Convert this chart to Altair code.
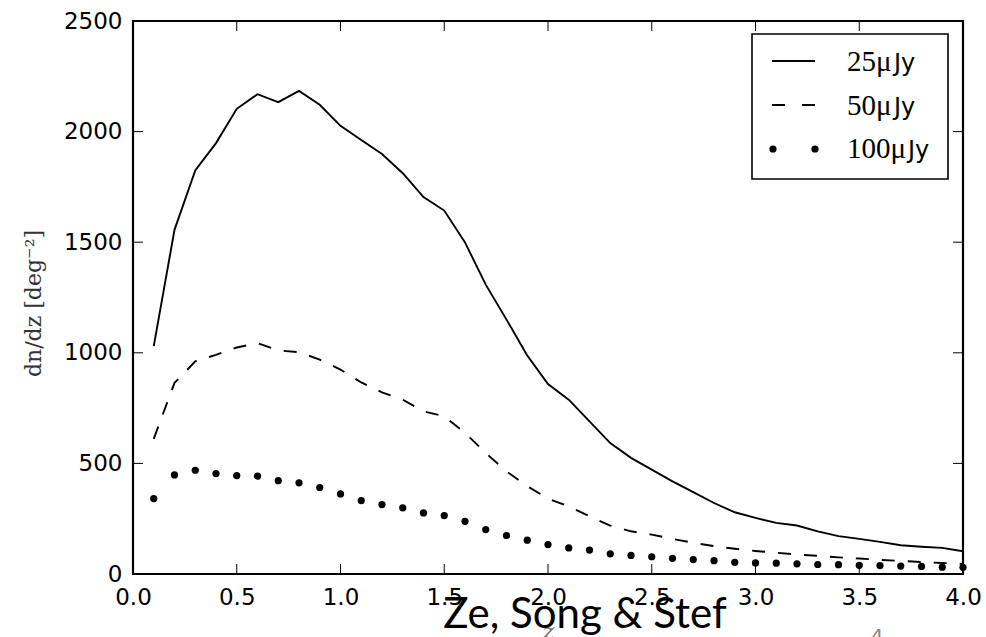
import altair as alt
import pandas as pd

# ---- data ----
z = [0.1, 0.2, 0.3, 0.4, 0.5, 0.6, 0.7, 0.8, 0.9, 1.0,
     1.1, 1.2, 1.3, 1.4, 1.5, 1.6, 1.7, 1.8, 1.9, 2.0,
     2.1, 2.2, 2.3, 2.4, 2.5, 2.6, 2.7, 2.8, 2.9, 3.0,
     3.1, 3.2, 3.3, 3.4, 3.5, 3.6, 3.7, 3.8, 3.9, 4.0]
n25 = [1030, 1556, 1824, 1948, 2103, 2169, 2133, 2184, 2121, 2026,
       1962, 1899, 1812, 1704, 1643, 1499, 1308, 1150, 988, 859,
       788, 690, 592, 525, 472, 419, 370, 321, 279, 254,
       231, 219, 193, 171, 159, 145, 130, 123, 118, 103]
n50 = [611, 864, 961, 991, 1024, 1044, 1011, 1003, 969, 924,
       866, 821, 788, 735, 713, 638, 547, 464, 397, 341,
       306, 261, 219, 193, 178, 159, 141, 126, 114, 104,
       96, 88, 82, 75, 70, 64, 59, 54, 50, 46]
n100 = [341, 448, 469, 454, 445, 442, 422, 412, 391, 362,
        332, 314, 299, 276, 264, 238, 201, 174, 153, 133,
        118, 108, 91, 84, 78, 71, 65, 60, 53, 50,
        49, 46, 43, 42, 39, 38, 36, 34, 31, 30]
x_ticks = [0.0, 0.5, 1.0, 1.5, 2.0, 2.5, 3.0, 3.5, 4.0]
y_ticks = [0, 500, 1000, 1500, 2000, 2500]
legend_nums = ["25\u03bc", "50\u03bc", "100\u03bc"]
legend_unit = "Jy"
x_title = "z"
y_title = "dn/dz [deg\u207b\u00b2]"
overlay_text = "Ze, Song & Stef"

W, H = 830, 553

df = pd.DataFrame({"z": z, "n25": n25, "n50": n50, "n100": n100})
xt = pd.DataFrame({"z": x_ticks})
yt = pd.DataFrame({"n": y_ticks})
one = pd.DataFrame({"k": [0]})

xscale = alt.Scale(domain=[0, 4], nice=False, zero=False)
yscale = alt.Scale(domain=[0, 2500], nice=False, zero=False)

xaxis = alt.Axis(values=x_ticks, format=".1f", ticks=False, domain=False, grid=False,
                 labelFont="DejaVu Sans", labelFontSize=23, labelColor="black",
                 labelPadding=12, labelFlush=False, labelOverlap=False,
                 title=x_title, titleFont="DejaVu Serif", titleFontStyle="italic",
                 titleFontWeight="normal", titleFontSize=22, titleColor="#777",
                 titleBaseline="top", titleY=47)
yaxis = alt.Axis(values=y_ticks, format="d", ticks=False, domain=False, grid=False,
                 labelFont="DejaVu Sans", labelFontSize=23, labelColor="black",
                 labelPadding=11, labelFlush=False, labelOverlap=False,
                 title=y_title, titleFont="DejaVu Serif", titleFontWeight="normal",
                 titleFontSize=22, titleColor="#333", titleAngle=270,
                 titleBaseline="middle", titleAlign="center", titleX=-100, titleY=282)

X = alt.X("z:Q", scale=xscale, axis=xaxis)

base = alt.Chart(df)
line25 = base.mark_line(color="black", strokeWidth=1.9).encode(
    x=X, y=alt.Y("n25:Q", scale=yscale, axis=yaxis))
line50 = base.mark_line(color="black", strokeWidth=1.9, strokeDash=[13, 13]).encode(
    x=X, y=alt.Y("n50:Q", scale=yscale, axis=yaxis))
dots100 = base.mark_circle(color="black", opacity=1, size=52).encode(
    x=X, y=alt.Y("n100:Q", scale=yscale, axis=yaxis))

# inward ticks on all four sides
tick_bottom = alt.Chart(xt).mark_rule(color="black", strokeWidth=1).encode(
    x=X, y=alt.value(H - 10), y2=alt.value(H))
tick_top = alt.Chart(xt).mark_rule(color="black", strokeWidth=1).encode(
    x=X, y=alt.value(0), y2=alt.value(10))
tick_left = alt.Chart(yt).mark_rule(color="black", strokeWidth=1).encode(
    y=alt.Y("n:Q", scale=yscale, axis=yaxis), x=alt.value(0), x2=alt.value(10))
tick_right = alt.Chart(yt).mark_rule(color="black", strokeWidth=1).encode(
    y=alt.Y("n:Q", scale=yscale, axis=yaxis), x=alt.value(W - 10), x2=alt.value(W))

# legend
leg_box = alt.Chart(one).mark_rect(fill="white", stroke="black", strokeWidth=1.6).encode(
    x=alt.value(619), x2=alt.value(815), y=alt.value(13), y2=alt.value(158))
leg_l1 = alt.Chart(one).mark_rule(color="black", strokeWidth=1.9).encode(
    x=alt.value(639), x2=alt.value(682), y=alt.value(40))
leg_l2 = alt.Chart(one).mark_rule(color="black", strokeWidth=1.9, strokeDash=[13, 17]).encode(
    x=alt.value(639), x2=alt.value(682), y=alt.value(84))
leg_d1 = alt.Chart(one).mark_circle(color="black", opacity=1, size=52).encode(
    x=alt.value(640), y=alt.value(128))
leg_d2 = alt.Chart(one).mark_circle(color="black", opacity=1, size=52).encode(
    x=alt.value(682), y=alt.value(128))

leg_layers = []
row_y = [50, 94, 137]
unit_x = [761, 761, 775]
for i in range(3):
    leg_layers.append(alt.Chart(one).mark_text(
        text=legend_nums[i], font="Liberation Serif", fontSize=29, align="left",
        baseline="alphabetic", color="black").encode(x=alt.value(714), y=alt.value(row_y[i])))
    leg_layers.append(alt.Chart(one).mark_text(
        text=legend_unit, font="DejaVu Sans", fontSize=24, align="left",
        baseline="alphabetic", color="black").encode(x=alt.value(unit_x[i]), y=alt.value(row_y[i])))

overlay = alt.Chart(one).mark_text(
    text=overlay_text, font="Lato", fontSize=42, align="center",
    baseline="alphabetic", color="black").encode(x=alt.value(452), y=alt.value(607))
frag4 = alt.Chart(one).mark_text(
    text="4", font="DejaVu Sans", fontSize=20, align="center",
    baseline="top", color="#888").encode(x=alt.value(744), y=alt.value(606))

chart = alt.layer(
    line25, line50, dots100,
    tick_bottom, tick_top, tick_left, tick_right,
    leg_box, leg_l1, leg_l2, leg_d1, leg_d2, *leg_layers,
    overlay, frag4,
).properties(
    width=W, height=H,
    autosize=alt.AutoSizeParams(type="none"),
    padding={"left": 133, "top": 21, "right": 23, "bottom": 63},
    background="white",
).configure_view(stroke="black", strokeWidth=2.2)

chart.save("out.html", embed_options={"renderer": "svg", "actions": False})
